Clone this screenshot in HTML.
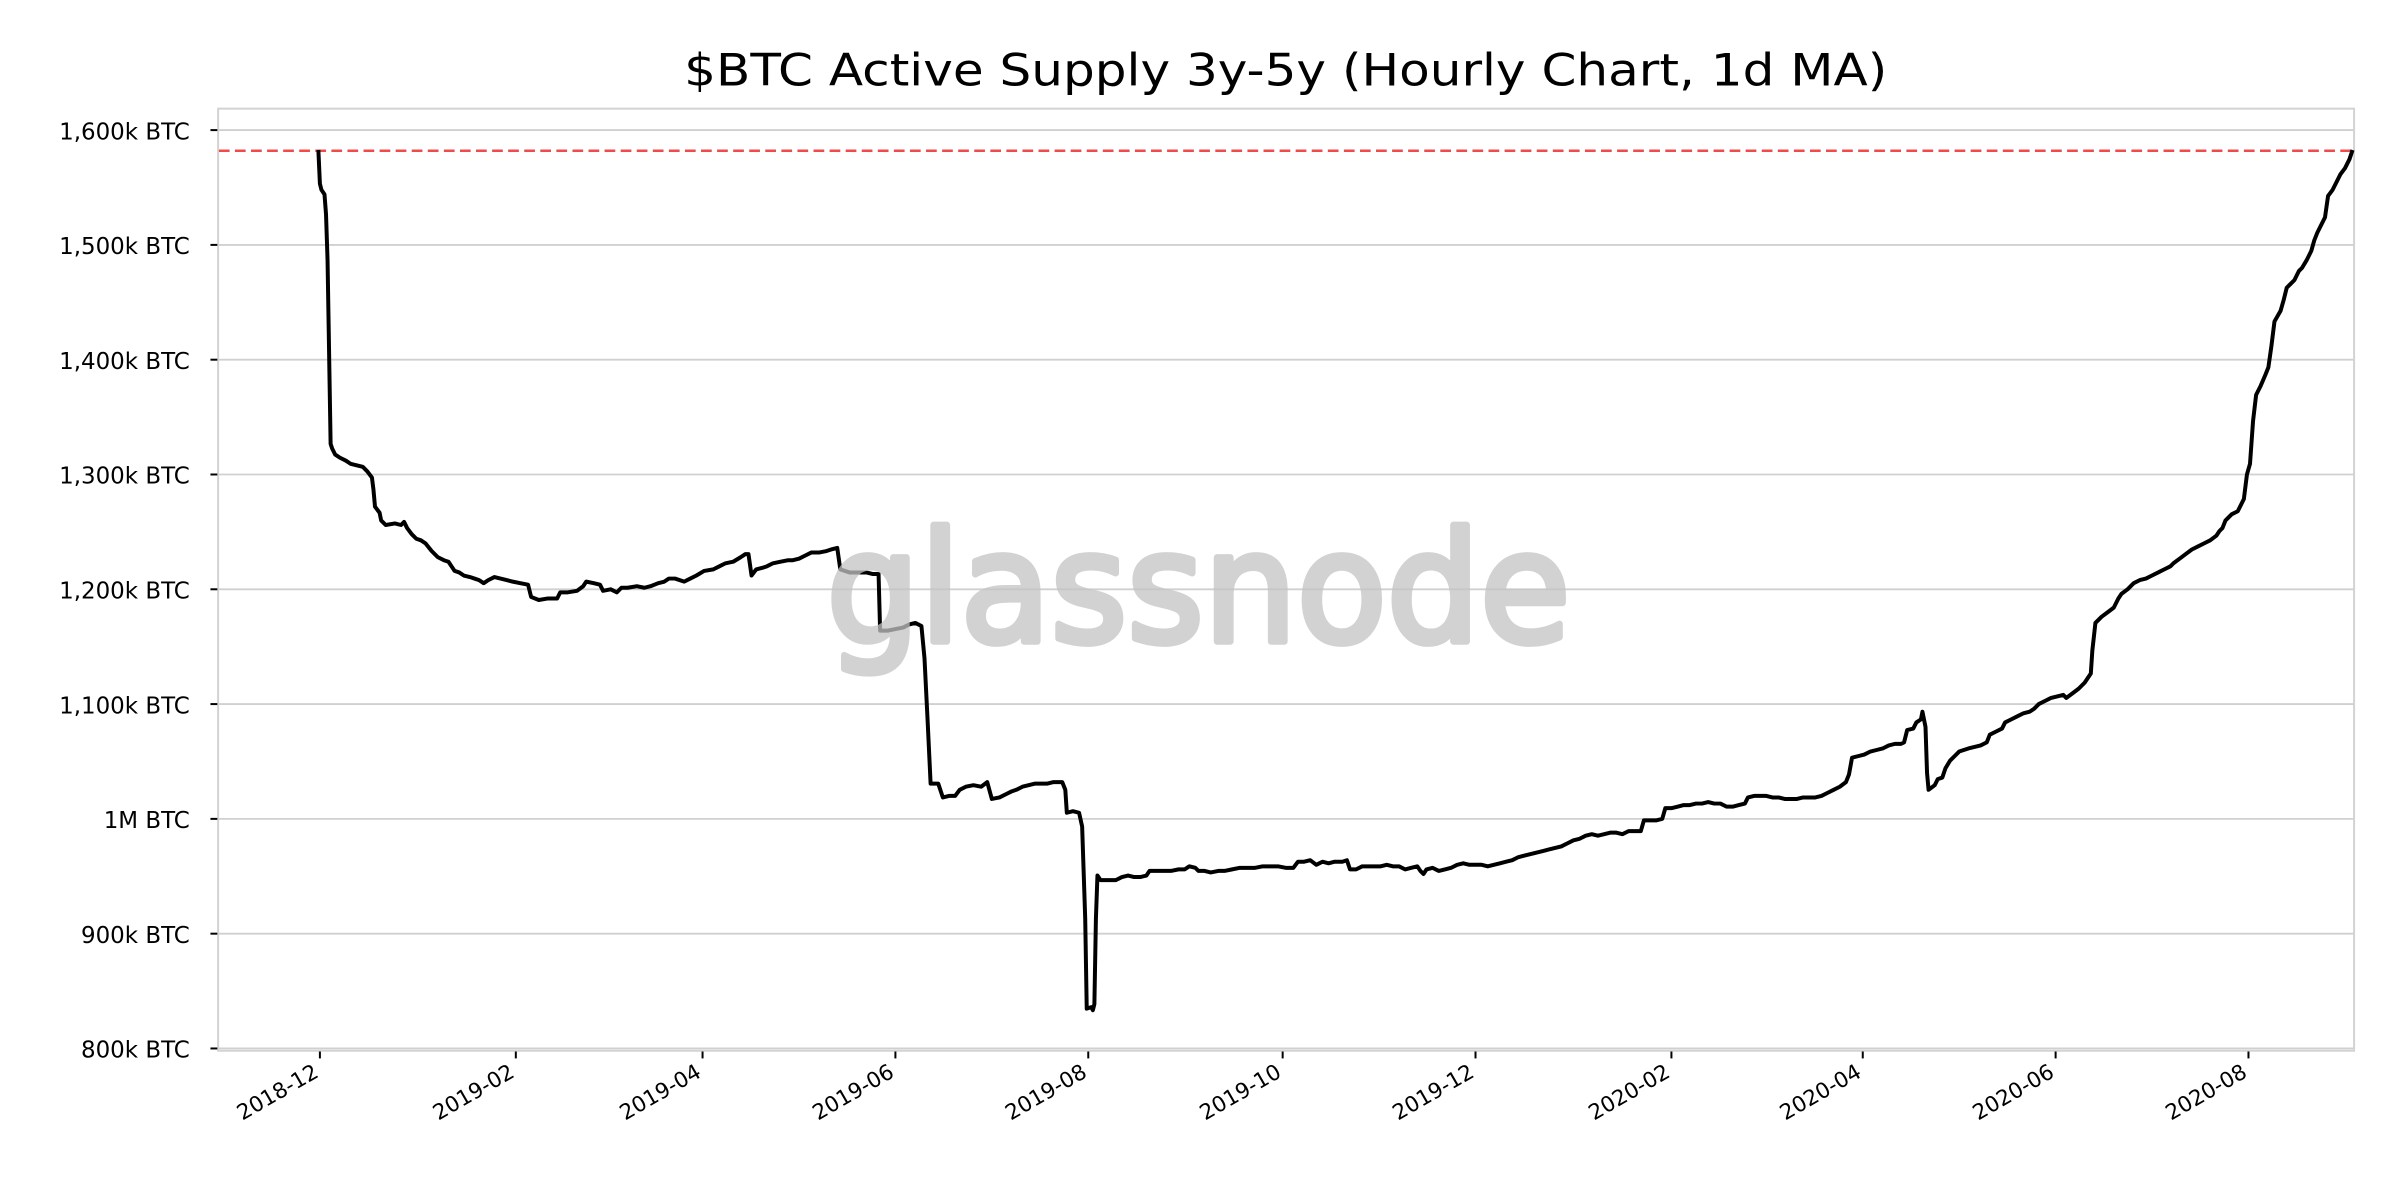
<!DOCTYPE html>
<html><head><meta charset="utf-8"><style>
html,body{margin:0;padding:0;background:#fff;}
svg{display:block;font-family:"DejaVu Sans","Liberation Sans",sans-serif;}
</style></head><body>
<svg width="2400" height="1200" viewBox="0 0 1568 784" xmlns="http://www.w3.org/2000/svg">
<rect width="1568" height="784" fill="#fff"/>
<text x="840" y="56" font-size="29" text-anchor="middle" fill="#000" textLength="786" lengthAdjust="spacingAndGlyphs">$BTC Active Supply 3y-5y (Hourly Chart, 1d MA)</text>
<g stroke="#d0d0d0" stroke-width="1.2">
<line x1="143" x2="1538" y1="85" y2="85"/><line x1="143" x2="1538" y1="160" y2="160"/>
<line x1="143" x2="1538" y1="235" y2="235"/><line x1="143" x2="1538" y1="310" y2="310"/>
<line x1="143" x2="1538" y1="385" y2="385"/><line x1="143" x2="1538" y1="460" y2="460"/>
<line x1="143" x2="1538" y1="535" y2="535"/><line x1="143" x2="1538" y1="610" y2="610"/>
<line x1="143" x2="1538" y1="685" y2="685"/>
</g>
<rect x="142.5" y="71" width="1395.5" height="615.5" fill="none" stroke="#d3d3d3" stroke-width="1.3"/>
<g stroke="#000" stroke-width="1.3">
<line x1="137.5" x2="142" y1="85" y2="85"/><line x1="137.5" x2="142" y1="160" y2="160"/>
<line x1="137.5" x2="142" y1="235" y2="235"/><line x1="137.5" x2="142" y1="310" y2="310"/>
<line x1="137.5" x2="142" y1="385" y2="385"/><line x1="137.5" x2="142" y1="460" y2="460"/>
<line x1="137.5" x2="142" y1="535" y2="535"/><line x1="137.5" x2="142" y1="610" y2="610"/>
<line x1="137.5" x2="142" y1="685" y2="685"/>
<line x1="209" x2="209" y1="687" y2="691.5"/><line x1="337" x2="337" y1="687" y2="691.5"/>
<line x1="459" x2="459" y1="687" y2="691.5"/><line x1="585" x2="585" y1="687" y2="691.5"/>
<line x1="711" x2="711" y1="687" y2="691.5"/><line x1="838" x2="838" y1="687" y2="691.5"/>
<line x1="964" x2="964" y1="687" y2="691.5"/><line x1="1092" x2="1092" y1="687" y2="691.5"/>
<line x1="1217" x2="1217" y1="687" y2="691.5"/><line x1="1343" x2="1343" y1="687" y2="691.5"/>
<line x1="1469" x2="1469" y1="687" y2="691.5"/>
</g>
<g font-size="15" text-anchor="end" fill="#000">
<text x="124" y="91">1,600k BTC</text><text x="124" y="166">1,500k BTC</text>
<text x="124" y="241">1,400k BTC</text><text x="124" y="316">1,300k BTC</text>
<text x="124" y="391">1,200k BTC</text><text x="124" y="466">1,100k BTC</text>
<text x="124" y="541">1M BTC</text><text x="124" y="616">900k BTC</text>
<text x="124" y="691">800k BTC</text>
</g>
<g font-size="14" text-anchor="end" fill="#000">
<text transform="translate(209,703) rotate(-30)">2018-12</text>
<text transform="translate(337,703) rotate(-30)">2019-02</text>
<text transform="translate(459,703) rotate(-30)">2019-04</text>
<text transform="translate(585,703) rotate(-30)">2019-06</text>
<text transform="translate(711,703) rotate(-30)">2019-08</text>
<text transform="translate(838,703) rotate(-30)">2019-10</text>
<text transform="translate(964,703) rotate(-30)">2019-12</text>
<text transform="translate(1092,703) rotate(-30)">2020-02</text>
<text transform="translate(1217,703) rotate(-30)">2020-04</text>
<text transform="translate(1343,703) rotate(-30)">2020-06</text>
<text transform="translate(1469,703) rotate(-30)">2020-08</text>
</g>
<line x1="143" x2="1538" y1="98.5" y2="98.5" stroke="#ef4b4b" stroke-width="1.6" stroke-dasharray="7,3.5"/>
<polyline fill="none" stroke="#000" stroke-width="2.6" stroke-linejoin="round" points="208,98 209,120 210,124 212,127 213,140 214,170 215,230 216,290 217,293 219,297 222,299 226,301 229,303 233,304 237,305 240,308 243,312 244,320 245,331 248,335 249,340 252,343 258,342 262,343 264,341 266,345 269,349 272,352 275,353 278,355 282,360 286,364 290,366 293,367 295,370 297,373 300,374 303,376 307,377 310,378 313,379 316,381 319,379 323,377 327,378 331,379 335,380 340,381 345,382 347,390 352,392 358,391 364,391 366,387 371,387 377,386 381,383 383,380 388,381 392,382 394,386 399,385 403,387 406,384 410,384 416,383 421,384 425,383 430,381 434,380 437,378 441,378 447,380 451,378 455,376 460,373 466,372 470,370 474,368 479,367 484,364 487,362 489,362 491,376 494,372 498,371 501,370 505,368 510,367 515,366 518,366 522,365 526,363 530,361 535,361 540,360 543,359 547,358 549,372 555,374 560,374 566,374 570,375 574,375 575,412 580,412 585,411 590,410 594,408 598,407 602,409 604,430 606,470 608,512 613,512 616,521 620,520 624,520 627,516 631,514 636,513 641,514 645,511 648,522 653,521 657,519 661,517 664,516 668,514 672,513 676,512 680,512 684,512 688,511 694,511 696,516 697,531 701,530 705,531 707,540 709,600 710,659 713,658 714,660 715,656 716,600 717,572 719,575 724,575 729,575 733,573 737,572 741,573 745,573 749,572 751,569 755,569 760,569 765,569 770,568 774,568 777,566 781,567 783,569 787,569 791,570 796,569 800,569 805,568 810,567 815,567 820,567 825,566 830,566 835,566 840,567 845,567 848,563 852,563 856,562 860,565 864,563 868,564 872,563 877,563 880,562 882,568 886,568 890,566 894,566 898,566 902,566 906,565 910,566 914,566 918,568 922,567 926,566 928,569 930,571 932,568 936,567 940,569 944,568 948,567 952,565 956,564 960,565 964,565 968,565 972,566 976,565 980,564 984,563 988,562 992,560 996,559 1000,558 1004,557 1008,556 1012,555 1016,554 1020,553 1024,551 1028,549 1032,548 1036,546 1040,545 1044,546 1048,545 1052,544 1056,544 1060,545 1064,543 1068,543 1072,543 1074,536 1078,536 1082,536 1086,535 1088,528 1092,528 1096,527 1100,526 1104,526 1108,525 1112,525 1116,524 1120,525 1124,525 1128,527 1132,527 1136,526 1140,525 1142,521 1146,520 1150,520 1154,520 1158,521 1162,521 1166,522 1170,522 1174,522 1178,521 1182,521 1186,521 1190,520 1194,518 1198,516 1202,514 1206,511 1208,506 1210,495 1214,494 1218,493 1222,491 1226,490 1230,489 1234,487 1238,486 1242,486 1244,485 1246,477 1250,476 1252,472 1255,470 1256,465 1258,475 1259,505 1260,516 1264,513 1266,509 1269,508 1271,502 1274,497 1277,494 1280,491 1283,490 1286,489 1290,488 1294,487 1298,485 1300,480 1304,478 1308,476 1310,472 1314,470 1318,468 1322,466 1326,465 1329,463 1332,460 1336,458 1340,456 1344,455 1348,454 1350,456 1354,453 1358,450 1362,446 1366,440 1367,425 1369,407 1373,403 1377,400 1381,397 1384,391 1386,388 1390,385 1394,381 1398,379 1402,378 1406,376 1410,374 1414,372 1418,370 1420,368 1424,365 1428,362 1432,359 1436,357 1440,355 1444,353 1448,350 1450,347 1452,345 1454,340 1458,336 1462,334 1464,330 1466,326 1468,310 1470,303 1472,275 1474,258 1477,252 1480,245 1482,240 1484,226 1486,210 1490,203 1492,196 1494,188 1496,186 1499,183 1502,177 1504,175 1507,170 1510,164 1512,157 1514,152 1516,148 1519,142 1521,128 1524,124 1529,114 1532,110 1533,108 1535,104 1537,98"/>
<g opacity="0.75">
<text x="783" y="419" font-size="100" fill="#c4c4c4" stroke="#c4c4c4" stroke-width="4.5" stroke-linejoin="round" text-anchor="middle" textLength="486" lengthAdjust="spacingAndGlyphs">glassnode</text>
</g>
</svg>
</body></html>
